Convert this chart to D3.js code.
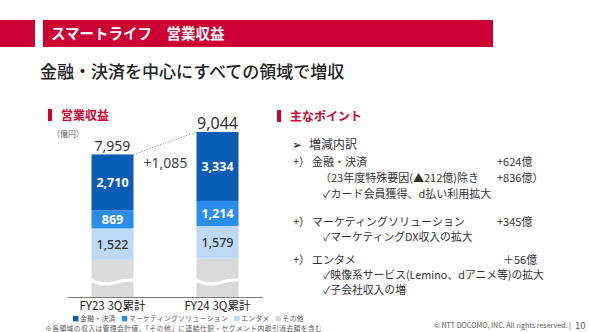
<!DOCTYPE html>
<html>
<head>
<meta charset="utf-8">
<script src="https://cdn.jsdelivr.net/npm/d3@7"></script>
<style>
  html, body { margin: 0; padding: 0; background: #fff; }
  svg { display: block; }
  text { font-family: "Noto Sans CJK JP", "Noto Sans", sans-serif; }
  .num { font-family: "Noto Sans", "Open Sans", sans-serif; }
</style>
</head>
<body>
<svg id="chart" width="590" height="332"></svg>
<script>
// Operating revenue, Smart Life segment (100 million yen)
const categories = ["FY23 3Q累計", "FY24 3Q累計"];
const segments = ["その他", "エンタメ", "マーケティングソリューション", "金融・決済"];
const finance   = [2710, 3334];
const marketing = [869, 1214];
const entame    = [1522, 1579];
const totals    = [7959, 9044];
const other     = totals.map((t, i) => t - finance[i] - marketing[i] - entame[i]);
const deltaLabel = "+1,085";
const legendLabels = ["金融・決済", "マーケティングソリューション", "エンタメ", "その他"];

const colors = {
  "金融・決済": "#0b5cb5",
  "マーケティングソリューション": "#2b8deb",
  "エンタメ": "#bdd9f6",
  "その他": "#d9d9d9"
};

const rows = categories.map((c, i) => ({
  cat: c,
  "その他": other[i],
  "エンタメ": entame[i],
  "マーケティングソリューション": marketing[i],
  "金融・決済": finance[i],
  total: totals[i]
}));

const svg = d3.select("#chart");
const red = "#cc0033";

// Header band
svg.append("rect").attr("x", 0).attr("y", 20).attr("width", 35).attr("height", 27).attr("fill", red);
svg.append("rect").attr("x", 43).attr("y", 20).attr("width", 450).attr("height", 27).attr("fill", red);
svg.append("text").attr("x", 51).attr("y", 38.5).attr("fill", "#fff")
  .attr("font-size", 14.5).attr("font-weight", 700).text("スマートライフ　営業収益");

svg.append("text").attr("x", 40).attr("y", 78).attr("fill", "#222")
  .attr("font-size", 17).attr("font-weight", 500).text("金融・決済を中心にすべての領域で増収");

// Section headings
function heading(x, y, label) {
  svg.append("rect").attr("x", x).attr("y", y - 6).attr("width", 4).attr("height", 12).attr("fill", red);
  svg.append("text").attr("x", x + 13).attr("y", y + 4.5).attr("fill", red)
    .attr("font-size", 12).attr("font-weight", 700).text(label);
}
heading(48, 115, "営業収益");
heading(277, 116, "主なポイント");

svg.append("text").attr("x", 52).attr("y", 137).attr("fill", "#555")
  .attr("font-size", 8).text("（億円）");

// Scales: the vertical axis is broken, so the visible range starts above zero
const axisY = 297;
const y = d3.scaleLinear().domain([1062, 9044]).range([axisY, 132]);
const x = d3.scalePoint().domain(categories).range([60, 270]).padding(0.5);
const barW = 42;

const stack = d3.stack().keys(segments)(rows);

const g = svg.append("g");
stack.forEach(layer => {
  g.selectAll(null).data(layer).join("rect")
    .attr("x", d => x(d.data.cat) - barW / 2)
    .attr("y", d => y(d[1]))
    .attr("width", barW)
    .attr("height", d => Math.max(0, Math.min(axisY, y(d[0])) - y(d[1])))
    .attr("fill", colors[layer.key]);
});

// Break marks across the grey segment
const wave = d3.line().curve(d3.curveBasis);
categories.forEach(c => {
  const x0 = x(c) - barW / 2 - 1, x1 = x(c) + barW / 2 + 1;
  const yb = 282;
  const pts = [[x0, yb - 2], [x0 + 10, yb + 2], [x0 + 22, yb + 2], [x0 + 32, yb - 2], [x1, yb - 2]];
  g.append("path").attr("d", wave(pts)).attr("fill", "none")
    .attr("stroke", "#fff").attr("stroke-width", 3.2);
});

// Segment labels
const labelSegs = [
  { key: "金融・決済", fill: "#fff", weight: 700 },
  { key: "マーケティングソリューション", fill: "#fff", weight: 700 },
  { key: "エンタメ", fill: "#333", weight: 500 }
];
labelSegs.forEach(s => {
  const layer = stack.find(l => l.key === s.key);
  g.selectAll(null).data(layer).join("text")
    .attr("class", "num")
    .attr("x", d => x(d.data.cat))
    .attr("y", d => (y(d[0]) + y(d[1])) / 2 + 4.5)
    .attr("text-anchor", "middle")
    .attr("font-size", 12.5).attr("font-weight", s.weight)
    .attr("fill", s.fill)
    .text(d => d3.format(",")(d.data[s.key]));
});

// Totals
g.selectAll(null).data(rows).join("text")
  .attr("class", "num")
  .attr("x", d => x(d.cat))
  .attr("y", d => y(d.total) - 3)
  .attr("text-anchor", "middle")
  .attr("font-size", (d, i) => i === 0 ? 14 : 16)
  .attr("fill", "#333")
  .text(d => d3.format(",")(d.total));

// Connector between totals
svg.append("line")
  .attr("x1", x(categories[0]) + barW / 2).attr("y1", y(totals[0]))
  .attr("x2", x(categories[1]) - barW / 2).attr("y2", y(totals[1]))
  .attr("stroke", "#8a8a8a").attr("stroke-width", 1).attr("stroke-dasharray", "1.2,1.6");

svg.append("text").attr("class", "num")
  .attr("x", (x(categories[0]) + x(categories[1])) / 2 + 0.5).attr("y", 168)
  .attr("text-anchor", "middle").attr("font-size", 14).attr("fill", "#444")
  .text(deltaLabel);

// Baseline
svg.append("line").attr("x1", 68).attr("x2", 263).attr("y1", axisY + 0.5).attr("y2", axisY + 0.5)
  .attr("stroke", "#7f7f7f").attr("stroke-width", 1);

// Category labels
svg.selectAll(null).data(categories).join("text")
  .attr("x", d => x(d)).attr("y", 309.6)
  .attr("text-anchor", "middle").attr("font-size", 11.6).attr("fill", "#222")
  .text(d => d);

// Legend
const legend = svg.append("g").attr("transform", "translate(73,318.3)");
let lx = 0;
legendLabels.forEach(lbl => {
  legend.append("rect").attr("x", lx).attr("y", -2.4).attr("width", 5.5).attr("height", 5.5)
    .attr("fill", colors[lbl]);
  const t = legend.append("text").attr("x", lx + 7).attr("y", 2.6)
    .attr("font-size", 6.8).attr("letter-spacing", 0.35).attr("fill", "#555").text(lbl);
  lx += 7 + t.node().getComputedTextLength() + 6;
});

svg.append("text").attr("x", 45).attr("y", 330.6).attr("font-size", 6.8)
  .attr("letter-spacing", 0.4).attr("fill", "#555")
  .text("※各領域の収入は管理会計値。「その他」に連結仕訳・セグメント内取引消去額を含む");

// Key points
const pts = svg.append("g").attr("fill", "#333");
function line(xx, yy, txt, size) {
  pts.append("text").attr("x", xx).attr("y", yy).attr("font-size", size || 11).text(txt);
}
pts.append("text").attr("x", 292).attr("y", 148.5).attr("font-size", 12).attr("fill", "#111").text("➢");
line(309, 148.5, "増減内訳", 12);
line(293, 166, "+）", 11);
line(312, 166, "金融・決済");
line(497, 166, "+624億");
line(320, 182, "（23年度特殊要因(▲212億)除き");
line(497, 182, "+836億）");
line(323, 198, "✓カード会員獲得、d払い利用拡大");
line(293, 225.5, "+）", 11);
line(312, 225.5, "マーケティングソリューション");
line(497, 225.5, "+345億");
line(323, 240.5, "✓マーケティングDX収入の拡大", 10.8);
line(293, 263.5, "+）", 11);
line(312, 263.5, "エンタメ");
line(503, 263.5, "＋56億");
line(323, 279, "✓映像系サービス(Lemino、dアニメ等)の拡大", 10.8);
line(323, 294, "✓子会社収入の増", 10.8);

// Footer
svg.append("text").attr("x", 434).attr("y", 328).attr("font-size", 7.1).attr("fill", "#555")
  .attr("font-family", "'Open Sans', 'Noto Sans', sans-serif")
  .text("© NTT DOCOMO, INC.  All rights reserved.");
svg.append("text").attr("x", 569).attr("y", 328).attr("font-size", 7.5).attr("fill", "#555")
  .attr("font-family", "'Open Sans', 'Noto Sans', sans-serif").text("|");
svg.append("text").attr("x", 575).attr("y", 328.5).attr("font-size", 9.5).attr("fill", "#555")
  .attr("font-family", "'Liberation Serif', serif").text("10");
</script>
</body>
</html>
